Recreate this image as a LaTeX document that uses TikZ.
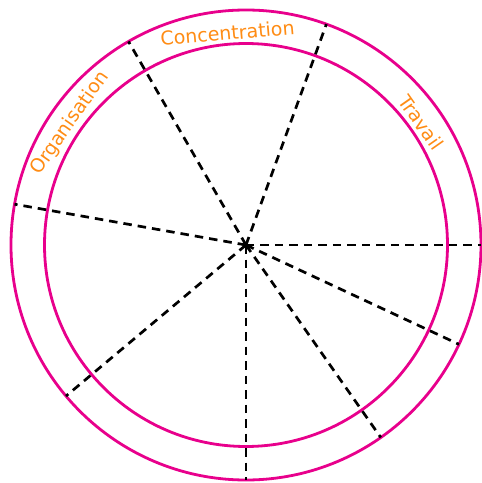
\documentclass[tikz,border=0pt]{standalone}
\usepackage{fontspec}
\newfontfamily\lblfont{DejaVu Sans}
\usetikzlibrary{calc}
\definecolor{ring}{RGB}{232,0,140}
\definecolor{lbl}{RGB}{255,140,20}
\tikzset{
  ringline/.style={draw=ring,line width=2.8pt},
  spoke/.style={draw=black,line width=2.7pt,dash pattern=on 8.5pt off 6pt},
  ringlabel/.style={text=lbl,font=\lblfont\fontsize{19}{22}\selectfont,inner sep=0pt,text depth=0pt}
}
\begin{document}
\begin{tikzpicture}
\useasboundingbox (-246pt,-238pt) rectangle (236pt,245pt);
\fill[white] (-246pt,-238pt) rectangle (236pt,245pt);
\coordinate (c) at (0,0);
\path[ringline] (c) circle (235pt);
\path[ringline] (c) circle (201.5pt);
\foreach \a/\n in {120/e1,70/e2,0/e3,-25/e4,-55/e5,-90/e6,220/e7,170/e8}{
  \coordinate (\n) at (\a:235pt);
  \path[spoke] (c) -- (\n);
}
\node[ringlabel,rotate=5] (conc) at (95:213pt) {Concentration};
\node[ringlabel,rotate=55] (orga) at (145.3:216pt) {Organisation};
\node[ringlabel,rotate=-55] (trav) at (35:214pt) {Travail};
\end{tikzpicture}
\end{document}
